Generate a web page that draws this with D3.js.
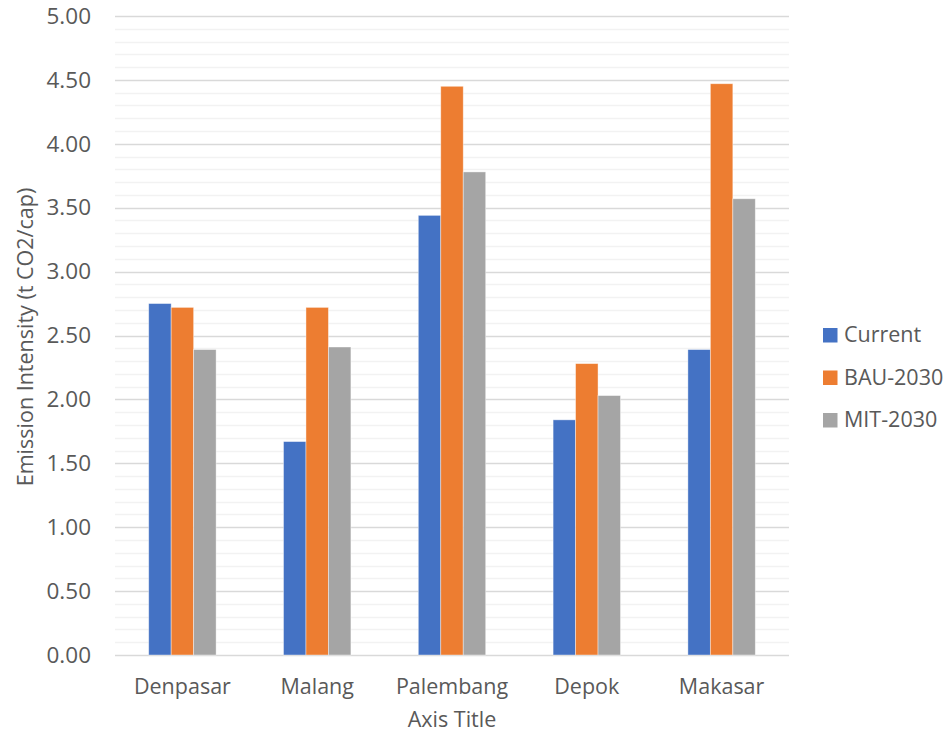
<!DOCTYPE html>
<html>
<head>
<meta charset="utf-8">
<script src="https://cdn.jsdelivr.net/npm/d3@7"></script>
<style>
  body { margin: 0; background: #fff; }
  text { font-family: "Open Sans", "Noto Sans", sans-serif; fill: #595959; }
</style>
</head>
<body>
<svg id="chart" width="947" height="734"></svg>
<script>
// data
const cities = ["Denpasar", "Malang", "Palembang", "Depok", "Makasar"];
const seriesNames = ["Current", "BAU-2030", "MIT-2030"];
const current = [2.75, 1.67, 3.44, 1.84, 2.39];
const bau2030 = [2.72, 2.72, 4.45, 2.28, 4.47];
const mit2030 = [2.39, 2.41, 3.78, 2.03, 3.57];
const yTicks = [0, 0.5, 1, 1.5, 2, 2.5, 3, 3.5, 4, 4.5, 5];
const colors = ["#4472c4", "#ed7d31", "#a5a5a5"];

const values = [current, bau2030, mit2030];
const table = cities.map((c, i) => ({ city: c, vals: seriesNames.map((s, j) => ({ key: s, v: values[j][i], idx: j })) }));

const svg = d3.select("#chart");
const margin = { top: 16, right: 158, bottom: 79, left: 115 };
const width = +svg.attr("width") - margin.left - margin.right;
const height = +svg.attr("height") - margin.top - margin.bottom;

const chart = svg.append("g")
  .attr("transform", `translate(${margin.left},${margin.top})`);

const x0 = d3.scaleBand().domain(cities).range([0, width]).paddingInner(0.5).paddingOuter(0.25);
const x1 = d3.scaleBand().domain(seriesNames).range([0, x0.bandwidth()]);
const y = d3.scaleLinear().domain([0, 5]).range([height, 0]);

// minor grid
chart.append("g")
  .selectAll("line")
  .data(d3.range(0, 50).map(d => d / 10).filter(d => Math.round(d * 10) % 5 !== 0))
  .enter().append("line")
  .attr("x1", 0).attr("x2", width)
  .attr("y1", d => Math.round(y(d)) + 0.5).attr("y2", d => Math.round(y(d)) + 0.5)
  .attr("stroke", "#f2f2f2").attr("stroke-width", 1.3);

// major grid
chart.append("g")
  .selectAll("line")
  .data(yTicks)
  .enter().append("line")
  .attr("x1", 0).attr("x2", width)
  .attr("y1", d => Math.round(y(d)) + 0.5).attr("y2", d => Math.round(y(d)) + 0.5)
  .attr("stroke", "#d9d9d9").attr("stroke-width", 1.3);

// bars
const groups = chart.selectAll(".group")
  .data(table)
  .enter().append("g")
  .attr("class", "group")
  .attr("transform", d => `translate(${x0(d.city)},0)`);

groups.selectAll("rect")
  .data(d => d.vals)
  .enter().append("rect")
  .attr("x", d => x1(d.key))
  .attr("width", x1.bandwidth())
  .attr("y", d => y(d.v))
  .attr("height", d => y(0) - y(d.v))
  .attr("fill", d => colors[d.idx])
  .attr("stroke", "#ffffff")
  .attr("stroke-opacity", 0.5)
  .attr("stroke-width", 0.8);

// y axis labels
const yAxis = chart.append("g")
  .call(d3.axisLeft(y).tickValues(yTicks).tickFormat(d3.format(".2f")).tickSize(0).tickPadding(24));
yAxis.select(".domain").remove();
yAxis.selectAll("text").style("font-size", "22.5px").attr("fill", "#595959")
  .style("font-family", "'Open Sans', sans-serif");

// x axis labels
const xAxis = chart.append("g")
  .attr("transform", `translate(0,${height})`)
  .call(d3.axisBottom(x0).tickSize(0));
xAxis.select(".domain").remove();
xAxis.selectAll("text")
  .attr("y", 39).attr("dy", null)
  .style("font-size", "21.5px").attr("fill", "#595959")
  .style("font-family", "'Open Sans', sans-serif");

// axis titles
svg.append("text")
  .attr("x", margin.left + width / 2)
  .attr("y", 727)
  .attr("text-anchor", "middle")
  .style("font-size", "21.5px")
  .text("Axis Title");

svg.append("text")
  .attr("transform", `translate(33,337) rotate(-90)`)
  .attr("text-anchor", "middle")
  .style("font-size", "21.5px")
  .text("Emission Intensity (t CO2/cap)");

// legend
const legend = svg.append("g").attr("transform", "translate(823,342)");
seriesNames.forEach((s, i) => {
  const g = legend.append("g").attr("transform", `translate(0,${i * 42.5})`);
  g.append("rect").attr("x", 0).attr("y", -14).attr("width", 14.5).attr("height", 14.5).attr("fill", colors[i]);
  g.append("text").attr("x", 21).attr("y", 0).style("font-size", "21.5px").text(s);
});
</script>
</body>
</html>
